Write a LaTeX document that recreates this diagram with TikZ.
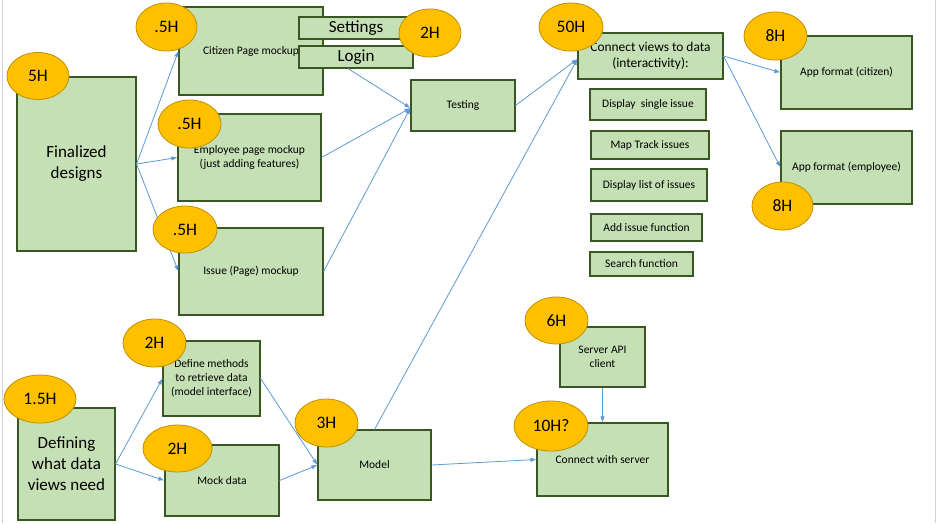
\documentclass[tikz,border=0pt]{standalone}
\usepackage{fontspec}
\setmainfont{Carlito}
\usetikzlibrary{shapes.geometric,arrows.meta,calc}
\definecolor{boxfill}{HTML}{C5E0B4}
\definecolor{boxline}{HTML}{385723}
\definecolor{ellfill}{HTML}{FFC000}
\definecolor{ellline}{HTML}{C09000}
\definecolor{arrowc}{HTML}{5B9BD5}
\definecolor{frame}{HTML}{D0D0D0}
\tikzset{
  taskbox/.style={draw=boxline, fill=boxfill, line width=1.1pt, inner sep=0pt, align=center,
    font=\fontsize{11.5}{14}\selectfont},
  bigtext/.style={font=\fontsize{17}{21}\selectfont},
  midtext/.style={font=\fontsize{13.4}{16}\selectfont},
  hours/.style={ellipse, draw=ellline, fill=ellfill, line width=0.8pt, inner sep=0pt,
    font=\fontsize{17.5}{20}\selectfont},
  conn/.style={draw=arrowc, line width=0.8pt, -{Latex[length=6pt,width=4.5pt]}},
}
\begin{document}
\begin{tikzpicture}[x=1pt,y=-1pt]
\useasboundingbox (0,0) rectangle (937,523);
\fill[white] (0,0) rectangle (937,523);
\draw[frame, line width=1pt] (2,0) -- (2,523);
\draw[frame, line width=1pt] (935,0) -- (935,523);

% boxes
\node[taskbox, bigtext, minimum width=119, minimum height=174] (fin) at (76.5,164) {Finalized\\designs};
\node[taskbox, minimum width=144, minimum height=88] (cit) at (251,51) {Citizen Page mockup};
\node[taskbox, bigtext, minimum width=114, minimum height=22] (set) at (356,28) {Settings};
\node[taskbox, bigtext, minimum width=114, minimum height=22] (login) at (356,57) {Login};
\node[taskbox, minimum width=104, minimum height=51] (test) at (463,105.5) {Testing};
\node[taskbox, minimum width=143, minimum height=87] (emp) at (249.5,157.5) {Employee page mockup\\(just adding features)};
\node[taskbox, minimum width=144, minimum height=87] (iss) at (251,271.5) {Issue (Page) mockup};
\node[taskbox, midtext, minimum width=145, minimum height=46] (cv) at (650.5,56) {Connect views to data\\(interactivity):};
\node[taskbox, minimum width=116, minimum height=31] (d1) at (648,104.5) {Display~~single issue};
\node[taskbox, minimum width=118, minimum height=28] (d2) at (650,145) {Map Track issues};
\node[taskbox, minimum width=116, minimum height=32] (d3) at (649,185) {Display list of issues};
\node[taskbox, minimum width=111, minimum height=27] (d4) at (646.5,227.5) {Add issue function};
\node[taskbox, minimum width=103, minimum height=24] (d5) at (641.5,264) {Search function};
\node[taskbox, minimum width=131, minimum height=73] (appc) at (846.5,72.5) {App format (citizen)};
\node[taskbox, minimum width=131, minimum height=73] (appe) at (846.5,167.5) {App format (employee)};
\node[taskbox, minimum width=97, minimum height=75] (def) at (211.5,378.5) {Define methods\\to retrieve data\\(model interface)};
\node[taskbox, bigtext, minimum width=97, minimum height=112] (dw) at (66.5,464) {Defining\\what data\\views need};
\node[taskbox, minimum width=114, minimum height=71] (mock) at (222,480.5) {Mock data};
\node[taskbox, minimum width=113, minimum height=70] (model) at (374.5,465) {Model};
\node[taskbox, minimum width=85, minimum height=60] (srv) at (602.5,357) {Server API\\client};
\node[taskbox, minimum width=131, minimum height=73] (cws) at (602.5,459.5) {Connect with server};

% connectors
\draw[conn] (fin.east) -- (cit.west);
\draw[conn] (fin.east) -- (emp.west);
\draw[conn] (fin.east) -- (iss.west);
\draw[conn] ($(login.south)+(-8,0)$) -- ($(test.west)+(0,2.5)$);
\draw[conn] (emp.east) -- ($(test.west)+(0,2.5)$);
\draw[conn] (iss.east) -- ($(test.west)+(0,2.5)$);
\draw[conn] (test.east) -- ($(cv.west)+(0,3)$);
\draw[conn] (model.north) -- ($(cv.west)+(0,3)$);
\draw[conn] (cv.east) -- (appc.west);
\draw[conn] (cv.east) -- (appe.west);
\draw[conn] (dw.east) -- (def.west);
\draw[conn] (dw.east) -- (mock.west);
\draw[conn] (def.east) -- (model.west);
\draw[conn] (mock.east) -- (model.west);
\draw[conn] (model.east) -- (cws.west);
\draw[conn] (srv.south) -- (cws.north);

% hour estimates
\node[hours, minimum width=62, minimum height=47] (h1) at (38,76) {5H};
\node[hours, minimum width=61, minimum height=48] (h2) at (166.5,27) {.5H};
\node[hours, minimum width=63, minimum height=48] (h3) at (189.5,124) {.5H};
\node[hours, minimum width=64, minimum height=47] (h4) at (185,229.5) {.5H};
\node[hours, minimum width=62, minimum height=48] (h5) at (430,33) {2H};
\node[hours, minimum width=64, minimum height=48] (h6) at (571,27) {50H};
\node[hours, minimum width=63, minimum height=48] (h7) at (775.5,36) {8H};
\node[hours, minimum width=61, minimum height=48] (h8) at (782.5,206) {8H};
\node[hours, minimum width=63, minimum height=48] (h9) at (154.5,343) {2H};
\node[hours, minimum width=72, minimum height=48] (h10) at (40,399) {1.5H};
\node[hours, minimum width=69, minimum height=47] (h11) at (177.5,448.5) {2H};
\node[hours, minimum width=63, minimum height=48] (h12) at (326.5,423) {3H};
\node[hours, minimum width=63, minimum height=47] (h13) at (556.5,320.5) {6H};
\node[hours, minimum width=74, minimum height=50] (h14) at (551,426) {10H?};
\end{tikzpicture}
\end{document}
